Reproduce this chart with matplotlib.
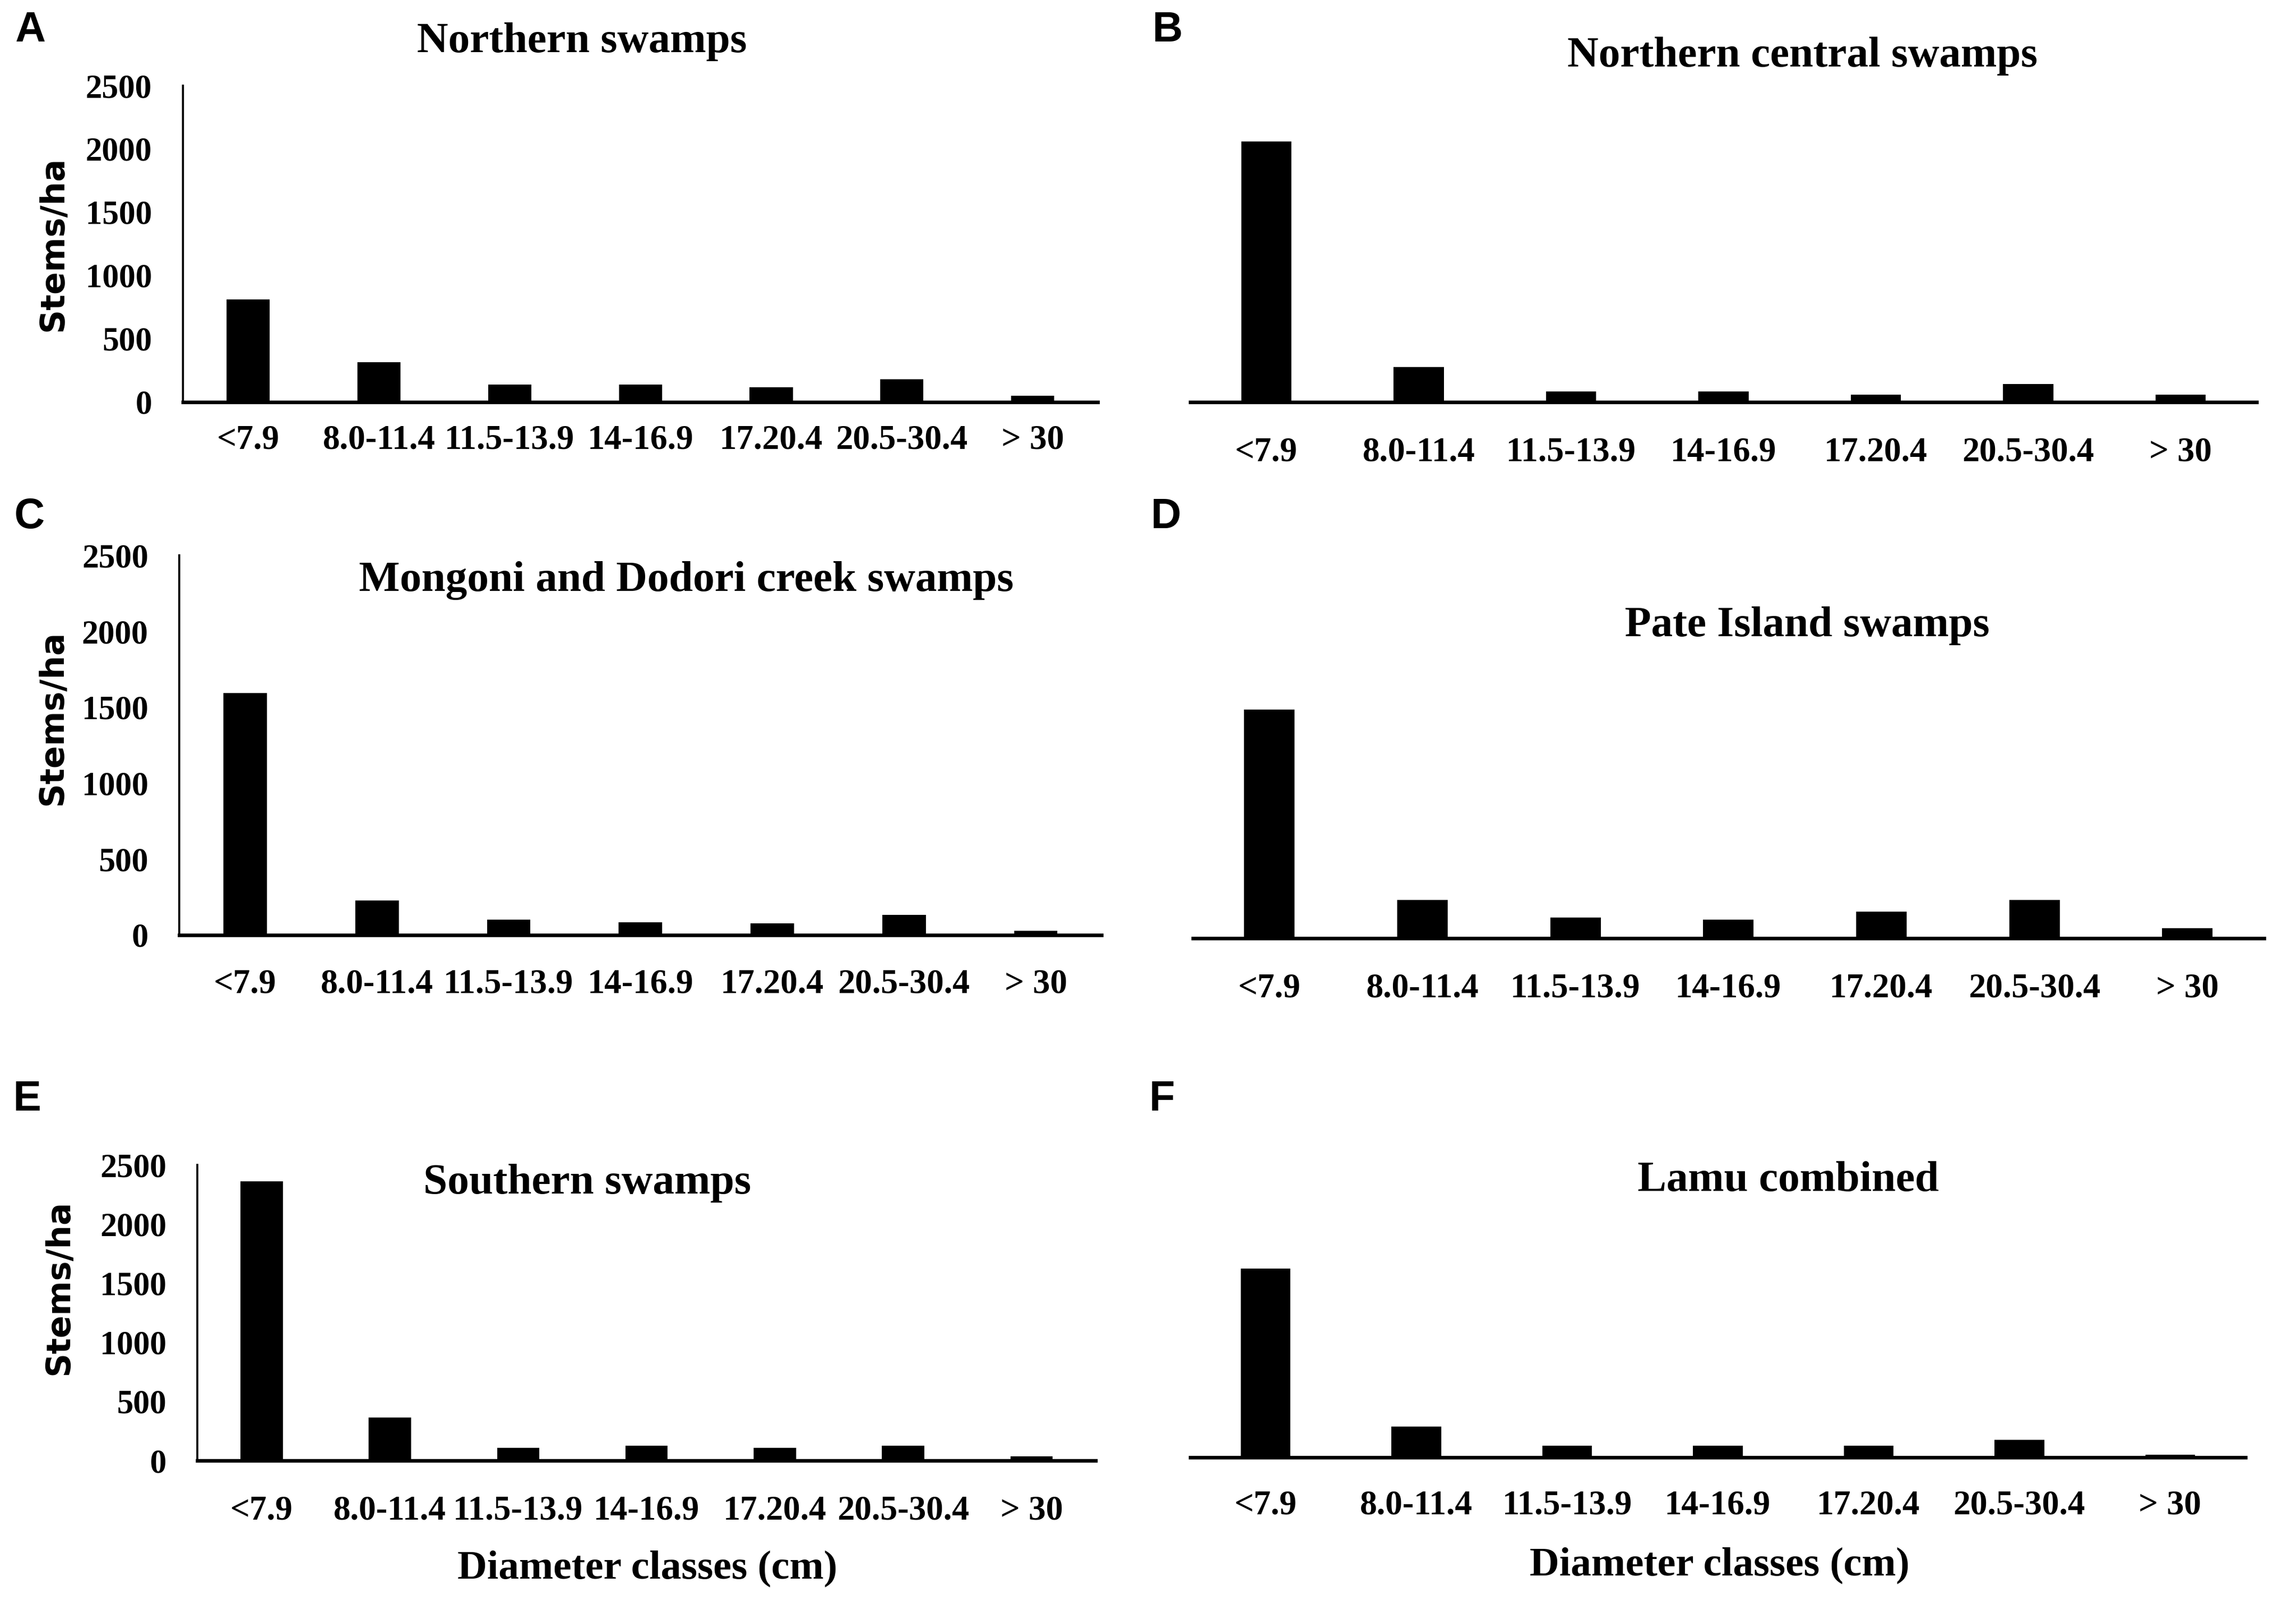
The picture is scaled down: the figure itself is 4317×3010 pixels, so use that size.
import matplotlib
matplotlib.use("Agg")
import matplotlib.pyplot as plt
import numpy as np

categories = ["<7.9", "8.0-11.4", "11.5-13.9", "14-16.9", "17.20.4", "20.5-30.4", "> 30"]

northern = [810, 315, 135, 135, 115, 180, 50]
northern_central = [2060, 275, 80, 80, 55, 140, 55]
mongoni_dodori = [1595, 228, 100, 83, 78, 134, 27]
pate_island = [1495, 250, 134, 120, 174, 250, 67]
southern = [2360, 365, 106, 128, 106, 128, 36]
lamu_combined = [1615, 265, 100, 100, 100, 150, 24]

titles = ["Northern swamps", "Northern central swamps", "Mongoni and Dodori creek swamps",
          "Pate Island swamps", "Southern swamps", "Lamu combined"]
letters = ["A", "B", "C", "D", "E", "F"]
yticks = [0, 500, 1000, 1500, 2000, 2500]
ylabel = "Stems/ha"
xlabel = "Diameter classes (cm)"

series = [northern, northern_central, mongoni_dodori, pate_island, southern, lamu_combined]

serif = ["Liberation Serif", "DejaVu Serif"]
sans = ["DejaVu Sans"]

fig = plt.figure(figsize=(4317 / 300, 3010 / 300), dpi=300)
fig.patch.set_facecolor("white")

layout = [
    dict(rect=[0.0797, 0.749, 0.3985, 0.1975], showy=True, tpos=(0.2534, 0.974), lpos=(0.0130, 0.981), pad=10, ylc=(-0.124, 0.5)),
    dict(rect=[0.5184, 0.749, 0.4645, 0.1975], showy=False, tpos=(0.7850, 0.965), lpos=(0.5085, 0.981), pad=15.5, ylc=None),
    dict(rect=[0.0781, 0.416, 0.4017, 0.2370], showy=True, tpos=(0.2990, 0.6375), lpos=(0.0127, 0.677), pad=15, ylc=(-0.120, 0.573)),
    dict(rect=[0.5196, 0.414, 0.4664, 0.2390], showy=False, tpos=(0.7870, 0.609), lpos=(0.5078, 0.677), pad=15.5, ylc=None),
    dict(rect=[0.0860, 0.0877, 0.3912, 0.1847], showy=True, tpos=(0.2557, 0.261), lpos=(0.0118, 0.313), pad=15.5, ylc=(-0.136, 0.585)),
    dict(rect=[0.5184, 0.0897, 0.4596, 0.1827], showy=False, tpos=(0.7788, 0.2625), lpos=(0.5060, 0.313), pad=14.5, ylc=None),
]

x = np.arange(len(categories))
for i, (vals, lay) in enumerate(zip(series, layout)):
    ax = fig.add_axes(lay["rect"])
    ax.bar(x, vals, width=0.33, color="black", edgecolor="black", linewidth=0)
    ax.set_xlim(-0.5, len(categories) - 0.5)
    ax.set_ylim(0, 2500)
    ax.set_xticks(x)
    ax.set_xticklabels(categories, fontfamily=serif, fontweight="bold", fontsize=15.5)
    ax.tick_params(axis="x", length=0, pad=lay["pad"])
    for s in ["top", "right"]:
        ax.spines[s].set_visible(False)
    ax.spines["bottom"].set_linewidth(1.6)
    ax.spines["bottom"].set_color("black")
    if lay["showy"]:
        ax.spines["left"].set_linewidth(0.9)
        ax.set_yticks(yticks)
        ax.set_yticklabels([str(v) for v in yticks], fontfamily=serif, fontweight="bold", fontsize=15)
        ax.tick_params(axis="y", length=0, pad=14)
        ax.set_ylabel(ylabel, fontfamily=sans, fontweight="bold", fontsize=15)
        ax.yaxis.set_label_coords(*lay["ylc"])
    else:
        ax.spines["left"].set_visible(False)
        ax.set_yticks([])
    fig.text(lay["tpos"][0], lay["tpos"][1], titles[i], ha="center", va="center",
             fontfamily=serif, fontweight="bold", fontsize=19.5)
    fig.text(lay["lpos"][0], lay["lpos"][1], letters[i], ha="center", va="center",
             fontfamily=["Liberation Sans", "DejaVu Sans"], fontweight="bold", fontsize=19)

fig.text(0.282, 0.020, xlabel, ha="center", va="center", fontfamily=serif, fontweight="bold", fontsize=18.5)
fig.text(0.749, 0.022, xlabel, ha="center", va="center", fontfamily=serif, fontweight="bold", fontsize=18.5)

fig.savefig("out.png", dpi=300, facecolor="white")
